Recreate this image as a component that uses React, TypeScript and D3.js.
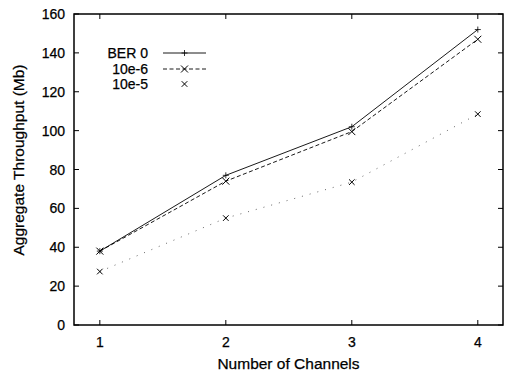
import React from "react";
import * as d3 from "d3";

const channels = [1, 2, 3, 4];
const ber0 = [38, 77, 102, 152];
const ber6 = [38, 74, 99.5, 147];
const ber5 = [27.5, 55, 73.5, 108.5];
const yTicks = [0, 20, 40, 60, 80, 100, 120, 140, 160];
const xTicks = [1, 2, 3, 4];
const seriesNames = ["BER 0", "10e-6", "10e-5"];

const W = 508, H = 374;
const L = 74, R = 503, T = 14, B = 325;
const font = "'Liberation Sans', Arial, Helvetica, sans-serif";

export default function App() {
  const x = d3.scaleLinear().domain([0.795, 4.2]).range([L, R]);
  const y = d3.scaleLinear().domain([0, 160]).range([B, T]);
  const line = d3.line<[number, number]>().x(d => x(d[0])).y(d => y(d[1]));
  const pts = (vals: number[]) => channels.map((c, i) => [c, vals[i]] as [number, number]);

  const cross = (cx: number, cy: number, s = 3.2, k = "") => (
    <path key={k} d={`M${cx - s},${cy - s}L${cx + s},${cy + s}M${cx - s},${cy + s}L${cx + s},${cy - s}`} stroke="#000" strokeWidth={1} fill="none" />
  );
  const plus = (cx: number, cy: number, s = 3.2, k = "") => (
    <path key={k} d={`M${cx - s},${cy}L${cx + s},${cy}M${cx},${cy - s}L${cx},${cy + s}`} stroke="#000" strokeWidth={0.8} fill="none" />
  );

  const tl = 5;
  const legY = [53, 69, 84];
  const legTextX = 148, legL = 163, legR = 206;
  const tp = { fontFamily: font, fill: "#000", stroke: "#000", strokeWidth: 0.25 } as const;

  return (
    <svg width={W} height={H} style={{ position: "absolute", left: 0, top: 0, background: "#fff" }}>
      <rect x={0} y={0} width={W} height={H} fill="#fff" />
      {yTicks.map(t => (
        <g key={"y" + t}>
          <line x1={L} x2={L + tl} y1={y(t)} y2={y(t)} stroke="#000" strokeWidth={1} />
          <line x1={R} x2={R - tl} y1={y(t)} y2={y(t)} stroke="#000" strokeWidth={1} />
          <text x={L - 9} y={y(t)} dy="0.36em" textAnchor="end" fontSize={14} {...tp}>{t}</text>
        </g>
      ))}
      {xTicks.map(t => (
        <g key={"x" + t}>
          <line x1={x(t)} x2={x(t)} y1={B} y2={B - tl} stroke="#000" strokeWidth={1} />
          <line x1={x(t)} x2={x(t)} y1={T} y2={T + tl} stroke="#000" strokeWidth={1} />
          <text x={x(t)} y={B + 22} textAnchor="middle" fontSize={14} {...tp}>{t}</text>
        </g>
      ))}
      <rect x={L} y={T} width={R - L} height={B - T} fill="none" stroke="#000" strokeWidth={1.5} />

      <path d={line(pts(ber0)) || ""} fill="none" stroke="#000" strokeWidth={0.9} />
      {pts(ber0).map((p, i) => plus(x(p[0]), y(p[1]), 3, "p0" + i))}
      <path d={line(pts(ber6)) || ""} fill="none" stroke="#000" strokeWidth={0.9} strokeDasharray="4,2.5" />
      {pts(ber6).map((p, i) => cross(x(p[0]), y(p[1]), 3.5, "p1" + i))}
      <path d={line(pts(ber5)) || ""} fill="none" stroke="#555" strokeWidth={0.9} strokeDasharray="1,7" />
      {pts(ber5).map((p, i) => cross(x(p[0]), y(p[1]), 2.8, "p2" + i))}

      {seriesNames.map((n, i) => (
        <text key={n} x={legTextX} y={legY[i]} dy="0.36em" textAnchor="end" fontSize={14} {...tp}>{n}</text>
      ))}
      <line x1={legL} x2={legR} y1={legY[0]} y2={legY[0]} stroke="#000" strokeWidth={0.9} />
      {plus((legL + legR) / 2, legY[0], 3, "lp0")}
      <line x1={legL} x2={legR} y1={legY[1]} y2={legY[1]} stroke="#000" strokeWidth={0.9} strokeDasharray="4,2.5" />
      {cross((legL + legR) / 2, legY[1], 3.5, "lp1")}
      {cross((legL + legR) / 2, legY[2], 2.8, "lp2")}

      <text x={(L + R) / 2} y={369} textAnchor="middle" fontSize={15.5} {...tp}>Number of Channels</text>
      <text transform="translate(24,160) rotate(-90)" textAnchor="middle" fontSize={15.5} {...tp}>Aggregate Throughput (Mb)</text>
    </svg>
  );
}
